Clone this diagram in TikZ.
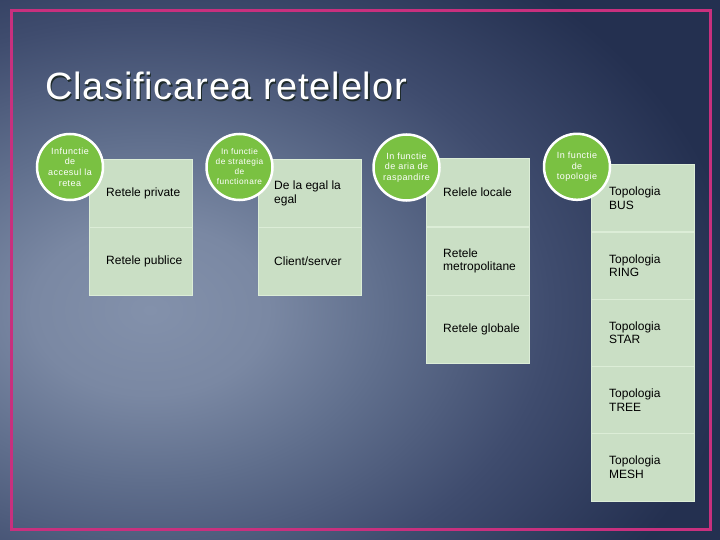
\documentclass[tikz,border=0pt]{standalone}
\usepackage{fontspec}
\setmainfont{Liberation Sans}
\newfontfamily\titlefont[LetterSpace=2]{Liberation Sans}
\newfontfamily\circfont[LetterSpace=5]{Liberation Sans}
\definecolor{bgA}{HTML}{8391AB}
\definecolor{bgB}{HTML}{7A88A3}
\definecolor{bgC}{HTML}{606F8D}
\definecolor{bgD}{HTML}{3F4C6E}
\definecolor{bgE}{HTML}{243050}
\definecolor{framecol}{HTML}{C8307E}
\definecolor{bubgreen}{HTML}{7AC142}
\definecolor{cellfill}{HTML}{CADFC5}
\definecolor{cellline}{HTML}{DCEDD7}
\definecolor{titleshadow}{HTML}{1E2A2A}
\pgfdeclareradialshading{bgshade}{\pgfpointorigin}{color(0bp)=(bgA); color(5bp)=(bgB); color(10bp)=(bgC); color(17bp)=(bgD); color(25bp)=(bgE); color(50bp)=(bgE)}
\begin{document}
\begin{tikzpicture}[x=1pt,y=-1pt,
  cell/.style={draw=cellline, line width=1.2pt, fill=cellfill, minimum width=103pt, minimum height=68pt, inner sep=0pt, anchor=north west},
  cellq/.style={cell, minimum height=67.3pt},
  celltext/.style={anchor=west, align=left, font=\fontsize{12}{13.5}\selectfont, text=black, inner sep=0pt},
  bubble/.style={circle, draw=white, line width=2.5pt, fill=bubgreen, minimum size=66pt, inner sep=0pt, align=center, text=white, font=\circfont\fontsize{9}{10.7}\selectfont},
  titlestyle/.style={anchor=base west, inner sep=0pt, font=\titlefont\fontsize{38}{40}\selectfont},
  framestyle/.style={draw=framecol, line width=3pt}]
\useasboundingbox (0,0) rectangle (720,540);
\begin{scope}
  \clip (0,0) rectangle (720,540);
  \fill[bgE] (0,0) rectangle (720,540);
  \shade[shading=bgshade] (150,310) ellipse [x radius=590pt, y radius=425pt];
\end{scope}
\draw[framestyle] (11,10.5) rectangle (710,529.5);
% title
\node[titlestyle, text=titleshadow] (titleshadow) at (46.2,101.2) {Clasificarea retelelor};
\node[titlestyle, text=white] (title) at (45,100) {Clasificarea retelelor};
% box 1
\node[cell] (c1a) at (89,159) {};
\node[cell] (c1b) at (89,227) {};
\node[celltext] (t1a) at ([xshift=17pt]c1a.west) {Retele private};
\node[celltext] (t1b) at ([xshift=17pt]c1b.west) {Retele publice};
% box 2
\node[cell] (c2a) at (258,159) {};
\node[cell] (c2b) at (258,227) {};
\node[celltext] (t2a) at ([xshift=16pt]c2a.west) {De la egal la\\egal};
\node[celltext] (t2b) at ([xshift=16pt]c2b.west) {Client/server};
% box 3
\node[cell] (c3a) at (426,158) {};
\node[cell] (c3b) at (426,226.5) {};
\node[cell] (c3c) at (426,295) {};
\node[celltext] (t3a) at ([xshift=17pt]c3a.west) {Relele locale};
\node[celltext] (t3b) at ([xshift=17pt]c3b.west) {Retele\\metropolitane};
\node[celltext] (t3c) at ([xshift=17pt]c3c.west) {Retele globale};
% box 4
\node[cellq] (c4a) at (591,164) {};
\node[cellq] (c4b) at (591,231.3) {};
\node[cellq] (c4c) at (591,298.6) {};
\node[cellq] (c4d) at (591,365.9) {};
\node[cellq] (c4e) at (591,433.2) {};
\node[celltext] (t4a) at ([xshift=18pt]c4a.west) {Topologia\\BUS};
\node[celltext] (t4b) at ([xshift=18pt]c4b.west) {Topologia\\RING};
\node[celltext] (t4c) at ([xshift=18pt]c4c.west) {Topologia\\STAR};
\node[celltext] (t4d) at ([xshift=18pt]c4d.west) {Topologia\\TREE};
\node[celltext] (t4e) at ([xshift=18pt]c4e.west) {Topologia\\MESH};
% bubbles
\node[bubble] (k1) at (70,167) {Infunctie\\de\\accesul la\\retea};
\node[bubble, font=\circfont\fontsize{8.3}{10}\selectfont] (k2) at (239.5,167) {In functie\\de strategia\\de\\functionare};
\node[bubble] (k3) at (406.5,167.5) {In functie\\de aria de\\raspandire};
\node[bubble] (k4) at (577,166.8) {In functie\\de\\topologie};
\end{tikzpicture}
\end{document}
